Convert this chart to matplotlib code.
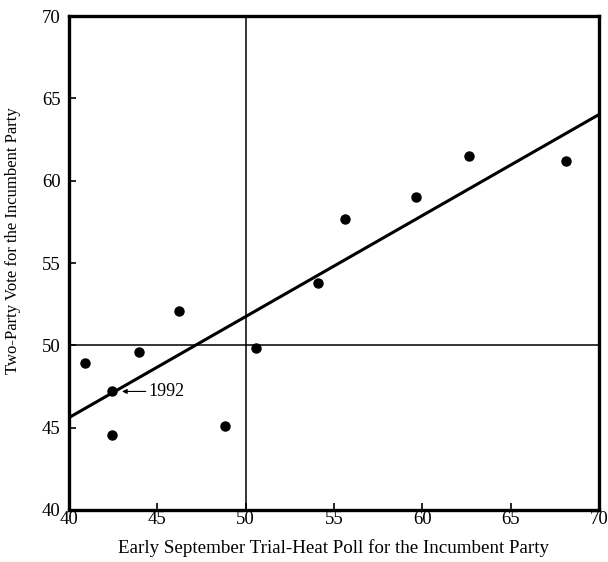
import numpy as np
import matplotlib
matplotlib.use('Agg')
import matplotlib.pyplot as plt

plt.rcParams['font.family'] = ['Liberation Serif', 'DejaVu Serif']

# trial-heat poll (x) vs two-party vote (y) for the incumbent party
poll = [40.9, 42.45, 42.45, 43.96, 46.24, 48.81, 50.57, 54.07, 55.6, 59.64, 62.65, 68.13]
vote = [48.9, 47.2, 44.55, 49.6, 52.1, 45.1, 49.85, 53.8, 57.65, 59.0, 61.5, 61.2]
label_year = '1992'
label_poll, label_vote = 42.45, 47.2

fig = plt.figure(figsize=(6.08, 5.62), dpi=100)
ax = fig.add_axes([69/608, 52/562, 530/608, 494/562])

ax.axvline(50, color='k', lw=1.1, zorder=1)
ax.axhline(50, color='k', lw=1.1, zorder=1)

# regression line
b, a = np.polyfit(poll, vote, 1)
xs = np.array([40, 70])
ax.plot(xs, a + b * xs, 'k-', lw=2.2, zorder=2)

ax.plot(poll, vote, 'o', color='k', markersize=6.5, zorder=3)

ax.annotate(label_year, xy=(label_poll + 0.55, label_vote), xytext=(44.5, label_vote),
            va='center', ha='left', fontsize=13,
            arrowprops=dict(arrowstyle='-|>', color='k', lw=0.8, mutation_scale=7,
                            shrinkA=0, shrinkB=0))

ax.set_xlim(40, 70)
ax.set_ylim(40, 70)
ax.set_xticks(range(40, 71, 5))
ax.set_yticks(range(40, 71, 5))
ax.tick_params(direction='in', length=5, width=1.2, labelsize=13.5)
ax.tick_params(axis='x', pad=1)
ax.tick_params(axis='y', pad=6)
for s in ax.spines.values():
    s.set_linewidth(2.4)

ax.set_xlabel('Early September Trial-Heat Poll for the Incumbent Party', fontsize=13.7, labelpad=8)
ax.set_ylabel('Two-Party Vote for the Incumbent Party', fontsize=12)
ax.yaxis.set_label_coords(-0.09, 0.545)

fig.savefig('out.png', dpi=100)
